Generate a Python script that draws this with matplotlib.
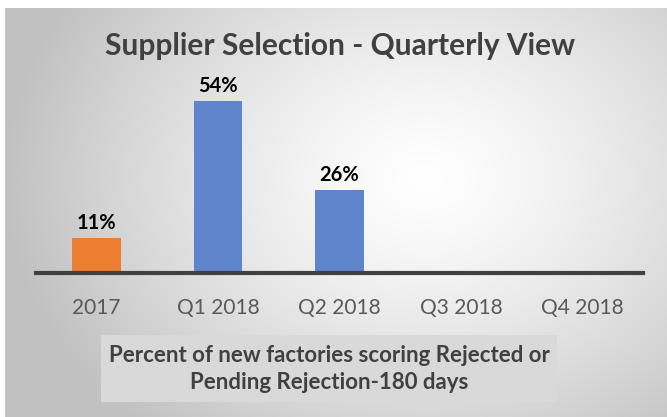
import numpy as np
import matplotlib
matplotlib.use("Agg")
import matplotlib.pyplot as plt
from matplotlib.patches import Rectangle

categories = ["2017", "Q1 2018", "Q2 2018", "Q3 2018", "Q4 2018"]
values = [11, 54, 26, None, None]
labels = ["11%", "54%", "26%", "", ""]
colors = ["#ED7D31", "#5F86CC", "#5F86CC", "#5F86CC", "#5F86CC"]
title = "Supplier Selection - Quarterly View"
footnote = "Percent of new factories scoring Rejected or\nPending Rejection-180 days"

W, H = 667, 417
fig = plt.figure(figsize=(W / 100, H / 100), dpi=100)
fig.patch.set_facecolor("white")

# background radial gradient panel
bg = fig.add_axes([5 / W, 0, 1 - 5 / W, 1 - 8 / H])
bg.set_axis_off()
yy, xx = np.mgrid[0:409, 0:662]
cx, cy = 420, 170
d = np.sqrt(((xx - cx) / 420.0) ** 2 + ((yy - cy) / 330.0) ** 2)
g = np.clip(1.0 - 0.24 * d ** 1.3, 0.76, 1.0)
bg.imshow(np.dstack([g, g, g]), aspect="auto", extent=[0, 1, 0, 1], origin="upper")
bg.set_xlim(0, 1)
bg.set_ylim(0, 1)

font = "Lato"

ax = fig.add_axes([36 / W, (H - 273) / H, (643 - 36) / W, 213 / H])
ax.patch.set_alpha(0)
x = np.arange(len(categories))
vals = [v if v is not None else 0 for v in values]
bars = ax.bar(x, vals, width=0.40, color=colors, zorder=2)
ax.set_xlim(-0.5, len(categories) - 0.5)
ax.set_ylim(0, 54 * 213 / 172)
for xi, v, lab in zip(x, vals, labels):
    if lab:
        ax.text(xi, v + 1.6, lab, ha="center", va="bottom", fontsize=14.5,
                fontweight="bold", color="black", family=font)
for s in ["top", "right", "left"]:
    ax.spines[s].set_visible(False)
ax.spines["bottom"].set_color("#404040")
ax.spines["bottom"].set_linewidth(3)
ax.set_yticks([])
ax.set_xticks(x)
ax.set_xticklabels(categories, fontsize=15, color="#595959", family=font)
ax.tick_params(axis="x", length=0, pad=18)

fig.text(340 / W, 1 - 46.5 / H, title, ha="center", va="center", fontsize=21.5,
         fontweight="bold", color="#404040", family=font)

fig.text(329 / W, 1 - 369 / H, footnote, ha="center", va="center", fontsize=16,
         fontweight="bold", color="#404040", family=font, linespacing=1.3)
fig.patches.append(Rectangle((101 / W, 1 - 402 / H), 456 / W, 67 / H,
                             transform=fig.transFigure, facecolor="#d9d9d9",
                             edgecolor="none", zorder=0.5))

fig.savefig("out.png", dpi=100)
